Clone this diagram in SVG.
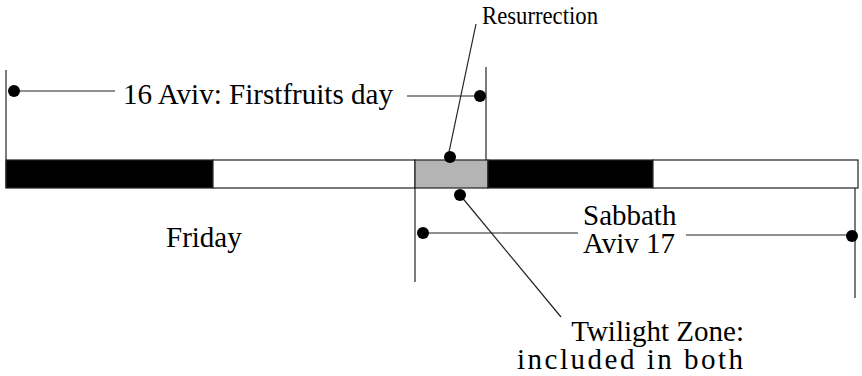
<svg xmlns="http://www.w3.org/2000/svg" width="862" height="376" viewBox="0 0 862 376">
<style>
text{font-family:"Liberation Serif","Times New Roman",serif;font-size:29px;fill:#000}
.ln{stroke:#222;stroke-width:1.2;fill:none}
.dot{fill:#000}
.seg{stroke:#222;stroke-width:1.2}
</style>
<rect width="862" height="376" fill="#fff"/>
<g id="timeline">
<rect class="seg" x="6" y="160" width="207" height="28" fill="#000"/>
<rect class="seg" x="213" y="160" width="202" height="28" fill="#fff"/>
<rect class="seg" x="415" y="160" width="73" height="28" fill="#b4b4b4"/>
<rect class="seg" x="488" y="160" width="165" height="28" fill="#000"/>
<rect class="seg" x="653" y="160" width="205" height="28" fill="#fff"/>
</g>
<g id="connectors">
<line class="ln" x1="6" y1="70" x2="6" y2="188"/>
<line class="ln" x1="486" y1="67" x2="486" y2="160"/>
<line class="ln" x1="14" y1="91" x2="115" y2="91"/>
<line class="ln" x1="407" y1="96" x2="480" y2="96"/>
<line class="ln" x1="476" y1="24" x2="449" y2="152"/>
<line class="ln" x1="460" y1="195" x2="561" y2="317"/>
<line class="ln" x1="415" y1="188" x2="415" y2="282"/>
<line class="ln" x1="855" y1="188" x2="855" y2="298"/>
<line class="ln" x1="423" y1="233" x2="578" y2="233"/>
<line class="ln" x1="686" y1="235" x2="852" y2="235"/>
<circle class="dot" cx="14" cy="91" r="6"/>
<circle class="dot" cx="480" cy="96" r="6"/>
<circle class="dot" cx="450" cy="157" r="6"/>
<circle class="dot" cx="460" cy="195" r="6"/>
<circle class="dot" cx="423" cy="233" r="6"/>
<circle class="dot" cx="852" cy="236" r="6"/>
</g>
<g id="firstfruits"><text x="123" y="104" textLength="270" lengthAdjust="spacingAndGlyphs">16 Aviv: Firstfruits day</text></g>
<g id="resurrection"><text x="482" y="24" style="font-size:26px" textLength="116" lengthAdjust="spacingAndGlyphs">Resurrection</text></g>
<g id="friday"><text x="166" y="247">Friday</text></g>
<g id="sabbath"><text x="583" y="225">Sabbath</text><text x="583" y="253">Aviv 17</text></g>
<g id="twilight"><text x="744" y="341" text-anchor="end">Twilight Zone:</text><text x="517" y="369" textLength="226" lengthAdjust="spacing">included in both</text></g>
</svg>
